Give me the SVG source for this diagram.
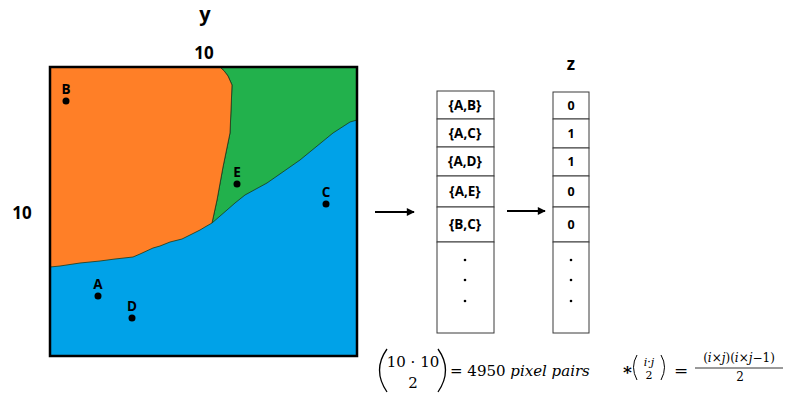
<svg xmlns="http://www.w3.org/2000/svg" width="785" height="394" viewBox="0 0 785 394">
<defs>
<style>
.lbl{font-family:"Open Sans","Liberation Sans",sans-serif;font-weight:bold;fill:#000}
.cell{fill:#fff;stroke:#3a3a3a;stroke-width:1}
.ct{font-family:"Open Sans","Liberation Sans",sans-serif;font-weight:bold;font-size:13.5px;text-anchor:middle;fill:#000}
.zt{font-family:"Open Sans","Liberation Sans",sans-serif;font-weight:bold;font-size:12.5px;text-anchor:middle;fill:#000}
.pt{fill:#000}
.bd{stroke:#1b3a1b;stroke-width:0.8;stroke-linejoin:round}
.math{font-family:"DejaVu Serif","Liberation Serif",serif;fill:#000}
.conn{stroke:#000;stroke-width:2;fill:none}
</style>
<marker id="ah" viewBox="0 0 10 10" refX="9" refY="5" markerWidth="4.5" markerHeight="4" orient="auto" markerUnits="strokeWidth">
<path d="M0,0 L10,5 L0,10 Z" fill="#000"/>
</marker>
</defs>
<rect width="785" height="394" fill="#fff"/>

<g id="axis-labels">
<text class="lbl" x="205" y="21" font-size="20" text-anchor="middle">y</text>
<text class="lbl" x="204" y="59" font-size="17" text-anchor="middle">10</text>
<text class="lbl" x="22" y="219" font-size="17" text-anchor="middle">10</text>
</g>

<g id="grid-map">
<rect x="50" y="67" width="307" height="289" fill="#00A2E8"/>
<path class="bd" fill="#22B14C" d="M220,67 L357,67 L357,120 L350,122 L333,133 L300,160 L267,183 L245,195 L235,203 L227,210 L212,223 L217,200 L223,167 L230,133 L232,85 L228,76 Q224,70 220,67 Z"/>
<path class="bd" fill="#FF7F27" d="M50,67 L220,67 Q224,70 228,76 L232,85 L231,110 L230,133 L223,167 L217,200 L212,223 L205,227 L200,230 L190,235 L182,239 L170,242 L160,246 L153,248 L140,254 L133,257 L115,259 L100,261 L80,263 L60,266 L50,267 Z"/>
<rect x="50" y="67" width="307" height="289" fill="none" stroke="#000" stroke-width="2.5"/>
</g>

<g id="point-B"><circle class="pt" cx="66" cy="101" r="3.5"/><text class="ct" x="66" y="94">B</text></g>
<g id="point-E"><circle class="pt" cx="237" cy="184" r="3.5"/><text class="ct" x="237" y="177">E</text></g>
<g id="point-C"><circle class="pt" cx="326" cy="204" r="3.5"/><text class="ct" x="326" y="197">C</text></g>
<g id="point-A"><circle class="pt" cx="98" cy="296" r="3.5"/><text class="ct" x="98" y="289">A</text></g>
<g id="point-D"><circle class="pt" cx="132" cy="318" r="3.5"/><text class="ct" x="132" y="311">D</text></g>

<g id="pairs-table">
<rect class="cell" x="437" y="91" width="57" height="28"/>
<rect class="cell" x="437" y="119" width="57" height="28"/>
<rect class="cell" x="437" y="147" width="57" height="29"/>
<rect class="cell" x="437" y="176" width="57" height="31"/>
<rect class="cell" x="437" y="207" width="57" height="35"/>
<rect class="cell" x="437" y="242" width="57" height="91"/>
<text class="ct" x="465" y="110">{A,B}</text>
<text class="ct" x="465" y="138">{A,C}</text>
<text class="ct" x="465" y="166">{A,D}</text>
<text class="ct" x="465" y="196">{A,E}</text>
<text class="ct" x="465" y="229">{B,C}</text>
<circle class="pt" cx="465" cy="260" r="1.3"/>
<circle class="pt" cx="465" cy="280" r="1.3"/>
<circle class="pt" cx="465" cy="301" r="1.3"/>
</g>

<g id="z-table">
<text class="lbl" x="571" y="70" font-size="17" text-anchor="middle">z</text>
<rect class="cell" x="553" y="92" width="36" height="27"/>
<rect class="cell" x="553" y="119" width="36" height="29"/>
<rect class="cell" x="553" y="148" width="36" height="28"/>
<rect class="cell" x="553" y="176" width="36" height="31"/>
<rect class="cell" x="553" y="207" width="36" height="35"/>
<rect class="cell" x="553" y="242" width="36" height="91"/>
<text class="zt" x="571" y="110">0</text>
<text class="zt" x="571" y="138">1</text>
<text class="zt" x="571" y="166">1</text>
<text class="zt" x="571" y="196">0</text>
<text class="zt" x="571" y="229">0</text>
<circle class="pt" cx="571" cy="260" r="1.3"/>
<circle class="pt" cx="571" cy="280" r="1.3"/>
<circle class="pt" cx="571" cy="301" r="1.3"/>
</g>

<g id="connectors">
<line class="conn" x1="375" y1="212" x2="414" y2="212" marker-end="url(#ah)"/>
<line class="conn" x1="507" y1="211" x2="545" y2="211" marker-end="url(#ah)"/>
</g>

<g id="formula-1">
<path d="M387,349 Q372,370 387,392" fill="none" stroke="#000" stroke-width="1.3"/>
<path d="M438,349 Q453,370 438,392" fill="none" stroke="#000" stroke-width="1.3"/>
<text class="math" x="413" y="367" font-size="15" text-anchor="middle">10 · 10</text>
<text class="math" x="413" y="388" font-size="15" text-anchor="middle">2</text>
<text class="math" x="450" y="376" font-size="15">= 4950 <tspan font-style="italic">pixel pairs</tspan></text>
</g>

<g id="formula-2">
<text class="math" x="623" y="378" font-size="17" font-weight="bold">*</text>
<path d="M637,355 Q630,367 637,380" fill="none" stroke="#000" stroke-width="1"/>
<path d="M661,355 Q668,367 661,380" fill="none" stroke="#000" stroke-width="1"/>
<text class="math" x="649" y="366" font-size="11" text-anchor="middle"><tspan font-style="italic">i</tspan>·<tspan font-style="italic">j</tspan></text>
<text class="math" x="649" y="379" font-size="11" text-anchor="middle">2</text>
<text class="math" x="674" y="376" font-size="17">=</text>
<text class="math" x="739" y="362" font-size="12" text-anchor="middle">(<tspan font-style="italic">i</tspan>×<tspan font-style="italic">j</tspan>)(<tspan font-style="italic">i</tspan>×<tspan font-style="italic">j</tspan>−1)</text>
<line x1="695" y1="368" x2="783" y2="368" stroke="#000" stroke-width="0.8"/>
<text class="math" x="740" y="381" font-size="12" text-anchor="middle">2</text>
</g>
</svg>
